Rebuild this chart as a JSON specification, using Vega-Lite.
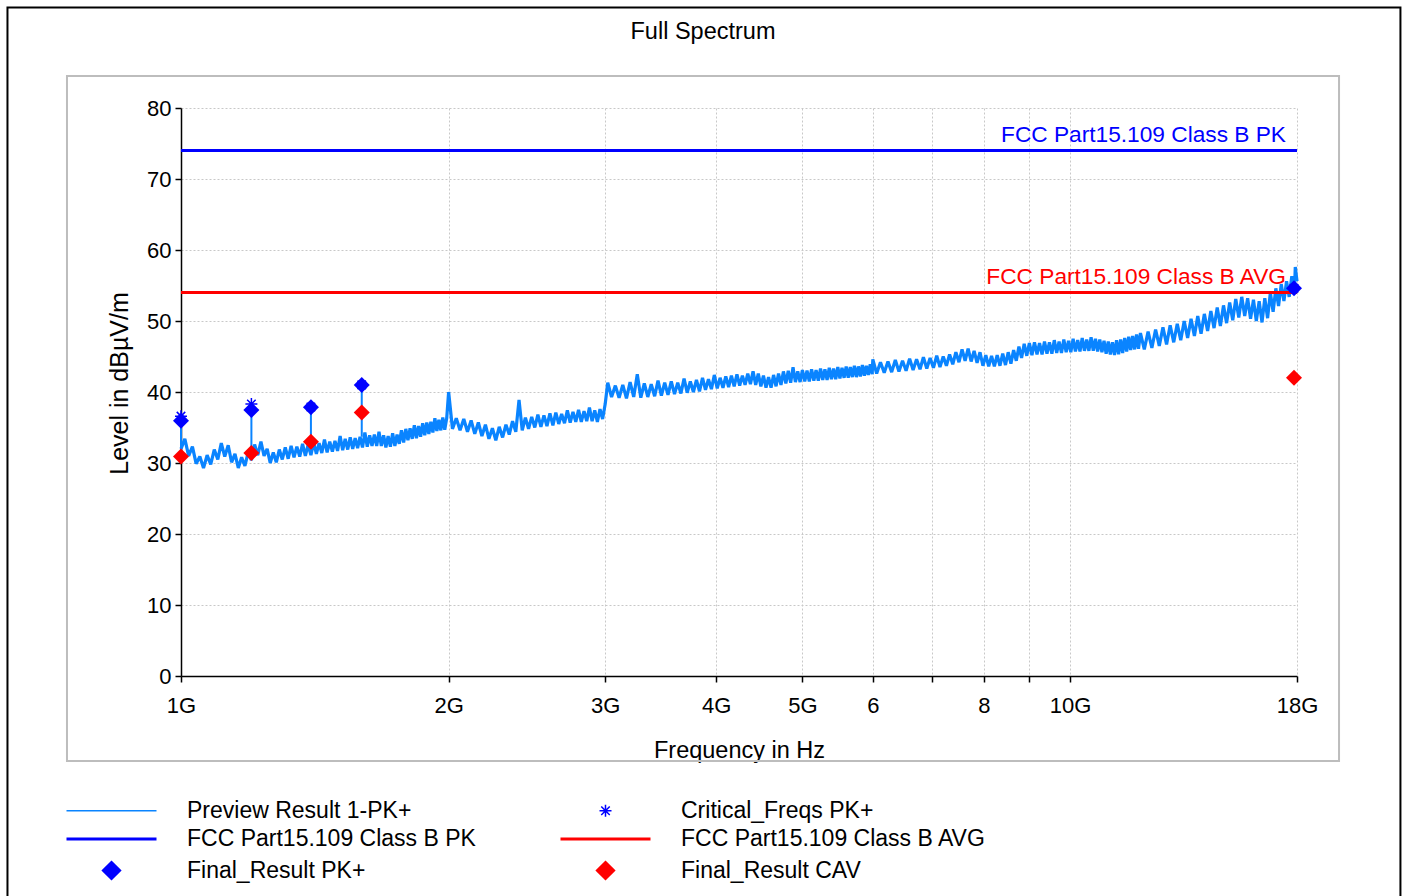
{
"$schema": "https://vega.github.io/schema/vega-lite/v6.json",
"width": 1116, "height": 568,
"autosize": {"type": "none"},
"padding": {"left": 181, "top": 108, "right": 110, "bottom": 220},
"background": "white",
"title": {"text": "Full Spectrum", "font": "Liberation Sans", "fontSize": 23.5, "fontWeight": "normal", "color": "black", "anchor": "middle", "frame": "group", "dx": -36, "offset": -37},
"config": {"view": {"stroke": null}},
"datasets": {
"trace": [
{"f":1.00,"v":32.0},{"f":1.01,"v":33.4},{"f":1.02,"v":31.0},{"f":1.03,"v":32.3},{"f":1.04,"v":29.9},{"f":1.05,"v":30.9},{"f":1.06,"v":29.3},{"f":1.07,"v":31.1},{"f":1.08,"v":29.8},{"f":1.09,"v":31.9},
{"f":1.10,"v":30.5},{"f":1.11,"v":32.8},{"f":1.12,"v":30.9},{"f":1.13,"v":32.5},{"f":1.14,"v":30.1},{"f":1.15,"v":31.3},{"f":1.16,"v":29.3},{"f":1.17,"v":30.8},{"f":1.18,"v":29.6},{"f":1.19,"v":31.5},
{"f":1.20,"v":30.4},{"f":1.21,"v":32.6},{"f":1.22,"v":31.1},{"f":1.23,"v":33.0},{"f":1.24,"v":31.0},{"f":1.25,"v":32.0},{"f":1.26,"v":30.0},{"f":1.27,"v":31.5},{"f":1.28,"v":30.1},{"f":1.29,"v":31.9},
{"f":1.30,"v":30.5},{"f":1.31,"v":32.2},{"f":1.32,"v":30.6},{"f":1.33,"v":32.4},{"f":1.34,"v":30.8},{"f":1.35,"v":32.3},{"f":1.36,"v":30.9},{"f":1.37,"v":32.7},{"f":1.38,"v":31.0},{"f":1.39,"v":32.6},
{"f":1.40,"v":31.1},{"f":1.41,"v":32.9},{"f":1.42,"v":31.3},{"f":1.43,"v":32.8},{"f":1.44,"v":31.4},{"f":1.45,"v":33.3},{"f":1.46,"v":31.5},{"f":1.47,"v":33.0},{"f":1.48,"v":31.6},{"f":1.49,"v":33.1},
{"f":1.50,"v":31.7},{"f":1.51,"v":33.8},{"f":1.52,"v":31.8},{"f":1.53,"v":33.4},{"f":1.54,"v":31.9},{"f":1.55,"v":33.6},{"f":1.56,"v":32.0},{"f":1.57,"v":33.5},{"f":1.58,"v":32.1},{"f":1.59,"v":33.7},
{"f":1.60,"v":32.2},{"f":1.61,"v":34.3},{"f":1.62,"v":32.3},{"f":1.63,"v":33.9},{"f":1.64,"v":32.4},{"f":1.65,"v":34.0},{"f":1.66,"v":32.4},{"f":1.67,"v":34.4},{"f":1.68,"v":32.4},{"f":1.69,"v":33.9},
{"f":1.70,"v":32.2},{"f":1.71,"v":33.8},{"f":1.72,"v":32.3},{"f":1.73,"v":34.2},{"f":1.74,"v":32.4},{"f":1.75,"v":34.0},{"f":1.76,"v":32.7},{"f":1.77,"v":34.6},{"f":1.78,"v":32.9},{"f":1.79,"v":34.8},
{"f":1.80,"v":33.2},{"f":1.81,"v":34.9},{"f":1.82,"v":33.4},{"f":1.83,"v":35.3},{"f":1.84,"v":33.5},{"f":1.85,"v":35.2},{"f":1.86,"v":33.7},{"f":1.87,"v":35.6},{"f":1.88,"v":33.9},{"f":1.89,"v":35.7},
{"f":1.90,"v":34.1},{"f":1.91,"v":35.8},{"f":1.92,"v":34.3},{"f":1.93,"v":36.3},{"f":1.94,"v":34.5},{"f":1.95,"v":36.1},{"f":1.96,"v":34.6},{"f":1.97,"v":36.4},{"f":1.98,"v":34.7},{"f":1.99,"v":36.3},
{"f":2.00,"v":40.0},
{"f":2.02,"v":34.8},{"f":2.04,"v":36.3},{"f":2.06,"v":34.6},{"f":2.08,"v":36.2},{"f":2.10,"v":34.4},{"f":2.12,"v":36.0},{"f":2.14,"v":34.1},{"f":2.16,"v":35.7},{"f":2.18,"v":33.8},{"f":2.20,"v":35.4},
{"f":2.22,"v":33.4},{"f":2.24,"v":34.9},{"f":2.26,"v":33.2},{"f":2.28,"v":35.1},{"f":2.30,"v":33.6},{"f":2.32,"v":35.4},{"f":2.34,"v":34.0},{"f":2.36,"v":35.9},{"f":2.38,"v":34.4},{"f":2.40,"v":38.9},
{"f":2.42,"v":34.6},{"f":2.44,"v":36.4},{"f":2.46,"v":34.8},{"f":2.48,"v":36.5},{"f":2.50,"v":35.0},{"f":2.52,"v":36.8},{"f":2.54,"v":35.1},{"f":2.56,"v":36.7},{"f":2.58,"v":35.2},{"f":2.60,"v":37.0},
{"f":2.62,"v":35.3},{"f":2.64,"v":37.1},{"f":2.66,"v":35.5},{"f":2.68,"v":36.9},{"f":2.70,"v":35.6},{"f":2.72,"v":37.4},{"f":2.74,"v":35.7},{"f":2.76,"v":37.2},{"f":2.78,"v":35.8},{"f":2.80,"v":37.5},
{"f":2.82,"v":35.8},{"f":2.84,"v":37.3},{"f":2.86,"v":35.9},{"f":2.88,"v":37.8},{"f":2.90,"v":35.9},{"f":2.92,"v":37.4},{"f":2.94,"v":35.8},{"f":2.96,"v":37.6},{"f":2.98,"v":36.2},{"f":3.00,"v":38.3},
{"f":3.02,"v":41.3},{"f":3.05,"v":39.3},{"f":3.08,"v":40.9},{"f":3.11,"v":39.2},{"f":3.14,"v":41.0},{"f":3.17,"v":39.1},{"f":3.20,"v":41.4},{"f":3.23,"v":39.3},{"f":3.26,"v":42.5},{"f":3.29,"v":39.2},
{"f":3.32,"v":41.2},{"f":3.35,"v":39.3},{"f":3.38,"v":41.1},{"f":3.41,"v":39.4},{"f":3.44,"v":41.6},{"f":3.47,"v":39.5},{"f":3.50,"v":41.3},{"f":3.53,"v":39.6},{"f":3.56,"v":41.5},{"f":3.59,"v":39.7},
{"f":3.62,"v":41.3},{"f":3.65,"v":39.8},{"f":3.68,"v":41.9},{"f":3.71,"v":39.9},{"f":3.74,"v":41.5},{"f":3.77,"v":40.0},{"f":3.80,"v":41.7},{"f":3.83,"v":40.1},{"f":3.86,"v":42.0},{"f":3.89,"v":40.3},
{"f":3.92,"v":41.8},{"f":3.95,"v":40.4},{"f":3.98,"v":42.4},{"f":4.01,"v":40.5},{"f":4.04,"v":42.0},{"f":4.07,"v":40.6},{"f":4.10,"v":42.2},{"f":4.13,"v":40.7},{"f":4.16,"v":42.3},{"f":4.19,"v":40.8},
{"f":4.22,"v":42.5},{"f":4.25,"v":40.9},{"f":4.28,"v":42.3},{"f":4.31,"v":41.0},{"f":4.34,"v":42.6},{"f":4.37,"v":41.1},{"f":4.40,"v":42.9},{"f":4.43,"v":41.0},{"f":4.46,"v":42.6},{"f":4.49,"v":40.8},
{"f":4.52,"v":42.3},{"f":4.55,"v":40.6},{"f":4.58,"v":42.1},{"f":4.61,"v":40.6},{"f":4.64,"v":42.4},{"f":4.67,"v":40.8},{"f":4.70,"v":42.6},{"f":4.73,"v":41.0},{"f":4.76,"v":42.9},{"f":4.79,"v":41.2},
{"f":4.82,"v":43.0},{"f":4.85,"v":41.3},{"f":4.88,"v":43.5},{"f":4.91,"v":41.4},{"f":4.94,"v":42.9},{"f":4.97,"v":41.4},{"f":5.00,"v":43.1},{"f":5.03,"v":41.5},{"f":5.06,"v":43.0},{"f":5.09,"v":41.5},
{"f":5.12,"v":43.2},{"f":5.15,"v":41.6},{"f":5.18,"v":43.1},{"f":5.21,"v":41.6},{"f":5.24,"v":43.3},{"f":5.27,"v":41.7},{"f":5.30,"v":43.2},{"f":5.33,"v":41.7},{"f":5.36,"v":43.4},{"f":5.39,"v":41.8},
{"f":5.42,"v":43.3},{"f":5.45,"v":41.8},{"f":5.48,"v":43.5},{"f":5.51,"v":41.9},{"f":5.54,"v":43.4},{"f":5.57,"v":42.0},{"f":5.60,"v":43.6},{"f":5.63,"v":42.0},{"f":5.66,"v":43.5},{"f":5.69,"v":42.1},
{"f":5.72,"v":43.7},{"f":5.75,"v":42.1},{"f":5.78,"v":43.6},{"f":5.81,"v":42.2},{"f":5.84,"v":43.8},{"f":5.87,"v":42.3},{"f":5.90,"v":43.7},{"f":5.93,"v":42.4},{"f":5.96,"v":43.9},{"f":5.99,"v":42.5},
{"f":6.00,"v":44.6},
{"f":6.06,"v":42.6},{"f":6.12,"v":44.2},{"f":6.18,"v":42.7},{"f":6.24,"v":44.3},{"f":6.30,"v":42.8},{"f":6.36,"v":44.5},{"f":6.42,"v":42.9},{"f":6.48,"v":44.4},{"f":6.54,"v":43.0},{"f":6.60,"v":44.7},
{"f":6.66,"v":43.1},{"f":6.72,"v":44.6},{"f":6.78,"v":43.2},{"f":6.84,"v":44.9},{"f":6.90,"v":43.3},{"f":6.96,"v":44.8},{"f":7.02,"v":43.4},{"f":7.08,"v":45.1},{"f":7.14,"v":43.5},{"f":7.20,"v":45.0},
{"f":7.26,"v":43.7},{"f":7.32,"v":45.3},{"f":7.38,"v":43.9},{"f":7.44,"v":45.6},{"f":7.50,"v":44.2},{"f":7.56,"v":46.0},{"f":7.62,"v":44.4},{"f":7.68,"v":46.1},{"f":7.74,"v":44.3},{"f":7.80,"v":45.8},
{"f":7.86,"v":44.1},{"f":7.92,"v":45.6},{"f":7.98,"v":43.7},{"f":8.04,"v":45.2},{"f":8.10,"v":43.6},{"f":8.16,"v":45.1},{"f":8.22,"v":43.6},{"f":8.28,"v":45.2},{"f":8.34,"v":43.7},{"f":8.40,"v":45.4},
{"f":8.46,"v":43.8},{"f":8.52,"v":45.6},{"f":8.58,"v":44.0},{"f":8.64,"v":45.9},{"f":8.70,"v":44.4},{"f":8.76,"v":46.4},{"f":8.82,"v":44.8},{"f":8.88,"v":46.8},{"f":8.94,"v":45.1},{"f":9.00,"v":46.9},
{"f":9.06,"v":45.2},{"f":9.12,"v":47.0},{"f":9.18,"v":45.3},{"f":9.24,"v":46.9},{"f":9.30,"v":45.3},{"f":9.36,"v":47.1},{"f":9.42,"v":45.4},{"f":9.48,"v":47.0},{"f":9.54,"v":45.4},{"f":9.60,"v":47.3},
{"f":9.66,"v":45.5},{"f":9.72,"v":47.1},{"f":9.78,"v":45.5},{"f":9.84,"v":47.4},{"f":9.90,"v":45.6},{"f":9.96,"v":47.2},{"f":10.02,"v":45.6},{"f":10.08,"v":47.5},{"f":10.14,"v":45.7},{"f":10.20,"v":47.3},
{"f":10.26,"v":45.7},{"f":10.32,"v":47.6},{"f":10.38,"v":45.8},{"f":10.44,"v":47.4},{"f":10.50,"v":45.8},{"f":10.56,"v":47.7},{"f":10.62,"v":45.8},{"f":10.68,"v":47.5},{"f":10.74,"v":45.7},{"f":10.80,"v":47.4},
{"f":10.86,"v":45.6},{"f":10.92,"v":47.2},{"f":10.98,"v":45.4},{"f":11.04,"v":47.1},{"f":11.10,"v":45.3},{"f":11.16,"v":47.0},{"f":11.22,"v":45.2},{"f":11.28,"v":47.3},{"f":11.34,"v":45.3},{"f":11.40,"v":47.4},
{"f":11.46,"v":45.5},{"f":11.52,"v":47.6},{"f":11.58,"v":45.7},{"f":11.64,"v":47.8},{"f":11.70,"v":45.9},{"f":11.76,"v":47.9},{"f":11.82,"v":46.0},{"f":11.88,"v":48.1},{"f":11.94,"v":46.1},
{"f":12.00,"v":48.3},{"f":12.12,"v":46.0},{"f":12.24,"v":48.5},{"f":12.36,"v":46.2},{"f":12.48,"v":48.8},{"f":12.60,"v":46.5},{"f":12.72,"v":49.1},{"f":12.84,"v":46.7},{"f":12.96,"v":49.4},{"f":13.08,"v":47.0},
{"f":13.20,"v":49.6},{"f":13.32,"v":47.3},{"f":13.44,"v":50.0},{"f":13.56,"v":47.6},{"f":13.68,"v":50.3},{"f":13.80,"v":47.9},{"f":13.92,"v":50.7},{"f":14.04,"v":48.2},{"f":14.16,"v":51.0},{"f":14.28,"v":48.6},
{"f":14.40,"v":51.4},{"f":14.52,"v":49.0},{"f":14.64,"v":51.9},{"f":14.76,"v":49.3},{"f":14.88,"v":52.2},{"f":15.00,"v":49.7},{"f":15.12,"v":52.6},{"f":15.24,"v":50.1},{"f":15.36,"v":53.1},{"f":15.48,"v":50.5},
{"f":15.60,"v":53.4},{"f":15.72,"v":50.7},{"f":15.84,"v":53.2},{"f":15.96,"v":50.3},{"f":16.08,"v":53.0},{"f":16.20,"v":50.0},{"f":16.32,"v":52.8},{"f":16.44,"v":49.8},{"f":16.56,"v":53.2},{"f":16.68,"v":50.4},
{"f":16.80,"v":54.0},{"f":16.92,"v":51.3},{"f":17.04,"v":54.6},{"f":17.16,"v":52.1},{"f":17.28,"v":55.2},{"f":17.40,"v":52.8},{"f":17.52,"v":55.6},{"f":17.64,"v":53.4},{"f":17.76,"v":56.3},{"f":17.88,"v":54.0},
{"f":17.92,"v":57.6},{"f":18.00,"v":55.6}
],
"limits": [
{"series":"FCC Part15.109 Class B PK","f":1,"f2":18,"v":74},
{"series":"FCC Part15.109 Class B AVG","f":1,"f2":18,"v":54}
],
"finals": [
{"series":"Final_Result PK+","f":1.0,"v":35.96},
{"series":"Final_Result PK+","f":1.2,"v":37.46},
{"series":"Final_Result PK+","f":1.4,"v":37.85},
{"series":"Final_Result PK+","f":1.597,"v":40.99},
{"series":"Final_Result PK+","f":17.86,"v":54.6},
{"series":"Final_Result CAV","f":1.0,"v":30.9},
{"series":"Final_Result CAV","f":1.2,"v":31.4},
{"series":"Final_Result CAV","f":1.4,"v":33.0},
{"series":"Final_Result CAV","f":1.597,"v":37.1},
{"series":"Final_Result CAV","f":17.86,"v":42.0}
],
"crit": [
{"series":"Critical_Freqs PK+","f":1.0,"v":36.6},
{"series":"Critical_Freqs PK+","f":1.2,"v":38.3},
{"series":"Critical_Freqs PK+","f":1.4,"v":37.9},
{"series":"Critical_Freqs PK+","f":1.597,"v":41.0},
{"series":"Critical_Freqs PK+","f":17.86,"v":54.6}
],
"stems": [
{"f":1.0,"v":35.96,"v2":31.0},
{"f":1.2,"v":37.46,"v2":31.4},
{"f":1.4,"v":37.85,"v2":33.0},
{"f":1.597,"v":40.99,"v2":33.7}
]
},
"layer": [
{"data": {"name": "trace"},
 "mark": {"type": "line", "strokeWidth": 3.2, "strokeJoin": "bevel"},
 "encoding": {
  "x": {"field": "f", "type": "quantitative",
   "scale": {"type": "log", "domain": [1, 18], "nice": false},
   "axis": {"values": [1,2,3,4,5,6,7,8,9,10,18],
    "labelExpr": "datum.value==7||datum.value==9 ? '' : (datum.value==6||datum.value==8 ? ''+datum.value : datum.value+'G')",
    "title": "Frequency in Hz", "grid": true, "gridDash": [2,2], "gridColor": "#c8c8c8", "gridWidth": 1,
    "domainColor": "black", "domainWidth": 1.5, "tickColor": "black", "tickWidth": 1.5, "tickSize": 6,
    "labelPadding": 13, "labelFont": "Liberation Sans", "labelFontSize": 22, "labelColor": "black",
    "labelFlush": false, "labelOverlap": false, "labelBound": false,
    "titleFont": "Liberation Sans", "titleFontSize": 23.5, "titleFontWeight": "normal", "titleColor": "black", "titlePadding": 22}},
  "y": {"field": "v", "type": "quantitative",
   "scale": {"domain": [0, 80], "nice": false, "zero": false},
   "axis": {"values": [0,5,10,15,20,25,30,35,40,45,50,55,60,65,70,75,80],
    "labelExpr": "datum.value % 10 == 0 ? datum.label : ''",
    "title": "Level in dBµV/m", "grid": true, "gridDash": [2,2], "gridColor": "#c8c8c8", "gridWidth": 1,
    "domainColor": "black", "domainWidth": 1.5, "tickColor": "black", "tickWidth": 1.5, "tickSize": 6,
    "labelPadding": 4, "labelFont": "Liberation Sans", "labelFontSize": 22, "labelColor": "black",
    "labelOverlap": false, "labelBound": false, "labelFlush": false,
    "titleFont": "Liberation Sans", "titleFontSize": 25, "titleFontWeight": "normal", "titleColor": "black", "titlePadding": 14, "titleY": 275}},
  "color": {"datum": "Preview Result 1-PK+", "type": "nominal", "title": null,
   "scale": {"domain": ["Preview Result 1-PK+","Critical_Freqs PK+","FCC Part15.109 Class B PK","FCC Part15.109 Class B AVG","Final_Result PK+","Final_Result CAV"],
             "range": ["#0a84ff","#0000ff","#0000ff","#ff0000","#0000ff","#ff0000"]},
   "legend": {"orient": "none", "legendX": -81, "legendY": 691, "direction": "horizontal", "columns": 2,
     "title": null, "padding": 0, "symbolSize": 100, "symbolOffset": 0, "labelOffset": 64, "rowPadding": 4.5, "columnPadding": 78,
     "labelFont": "Liberation Sans", "labelFontSize": 23, "labelColor": "black", "labelLimit": 600,
     "encode": {"symbols": {"update": {
       "shape": {"signal": "datum.value=='Critical_Freqs PK+' ? 'M-9,0M9,0M0,-1.2V1.2M-1.2,0H1.2M-0.85,-0.85L0.85,0.85M-0.85,0.85L0.85,-0.85' : ((datum.value=='Final_Result PK+'||datum.value=='Final_Result CAV') ? 'M-9,0M9,0M0,-1.6L1.6,0L0,1.6L-1.6,0Z' : 'M-9,0H9')"},
       "size": {"value": 100},
       "fill": {"signal": "(datum.value=='Final_Result PK+'||datum.value=='Final_Result CAV') ? scale('color', datum.value) : 'transparent'"},
       "stroke": {"signal": "(datum.value=='Final_Result PK+'||datum.value=='Final_Result CAV') ? 'transparent' : scale('color', datum.value)"},
       "strokeWidth": {"signal": "(datum.value=='Preview Result 1-PK+'||datum.value=='Critical_Freqs PK+') ? 1.5 : 3"},
       "opacity": {"value": 1}, "fillOpacity": {"value": 1}, "strokeOpacity": {"value": 1}
     }}}}}}},
{"data": {"values": [{}]},
 "mark": {"type": "rect", "fill": "transparent", "stroke": "black", "strokeWidth": 2, "clip": false},
 "encoding": {"x": {"datum": 0.638, "type": "quantitative"}, "x2": {"datum": 23.53}, "y": {"datum": 94.15, "type": "quantitative"}, "y2": {"datum": -32}}},
{"data": {"values": [{}]},
 "mark": {"type": "rect", "fill": "transparent", "stroke": "#bdbdbd", "strokeWidth": 2, "clip": false},
 "encoding": {"x": {"datum": 0.7443, "type": "quantitative"}, "x2": {"datum": 20.07}, "y": {"datum": 84.51, "type": "quantitative"}, "y2": {"datum": -11.97}}},
{"data": {"name": "stems"},
 "mark": {"type": "rule", "color": "#0a84ff", "strokeWidth": 2},
 "encoding": {"x": {"field": "f", "type": "quantitative"}, "y": {"field": "v", "type": "quantitative"}, "y2": {"field": "v2"}}},
{"data": {"name": "limits"},
 "mark": {"type": "rule", "strokeWidth": 3},
 "encoding": {"x": {"field": "f", "type": "quantitative"}, "x2": {"field": "f2"}, "y": {"field": "v", "type": "quantitative"}, "color": {"field": "series", "type": "nominal", "title": null}}},
{"data": {"name": "limits"},
 "mark": {"type": "text", "align": "right", "baseline": "alphabetic", "dx": -11, "dy": -9, "font": "Liberation Sans", "fontSize": 22.7},
 "encoding": {"x": {"field": "f2", "type": "quantitative"}, "y": {"field": "v", "type": "quantitative"}, "text": {"field": "series"}, "color": {"field": "series", "type": "nominal", "title": null}}},
{"data": {"name": "crit"},
 "mark": {"type": "point", "shape": "M0,-1.2V1.2M-1.2,0H1.2M-0.85,-0.85L0.85,0.85M-0.85,0.85L0.85,-0.85", "size": 100, "filled": false, "strokeWidth": 1.5, "opacity": 1},
 "encoding": {"x": {"field": "f", "type": "quantitative"}, "y": {"field": "v", "type": "quantitative"}, "color": {"field": "series", "type": "nominal", "title": null}}},
{"data": {"name": "finals"},
 "mark": {"type": "point", "shape": "M0,-1.6L1.6,0L0,1.6L-1.6,0Z", "size": 100, "filled": true, "strokeWidth": 0, "opacity": 1},
 "encoding": {"x": {"field": "f", "type": "quantitative"}, "y": {"field": "v", "type": "quantitative"}, "color": {"field": "series", "type": "nominal", "title": null}}}
]
}
